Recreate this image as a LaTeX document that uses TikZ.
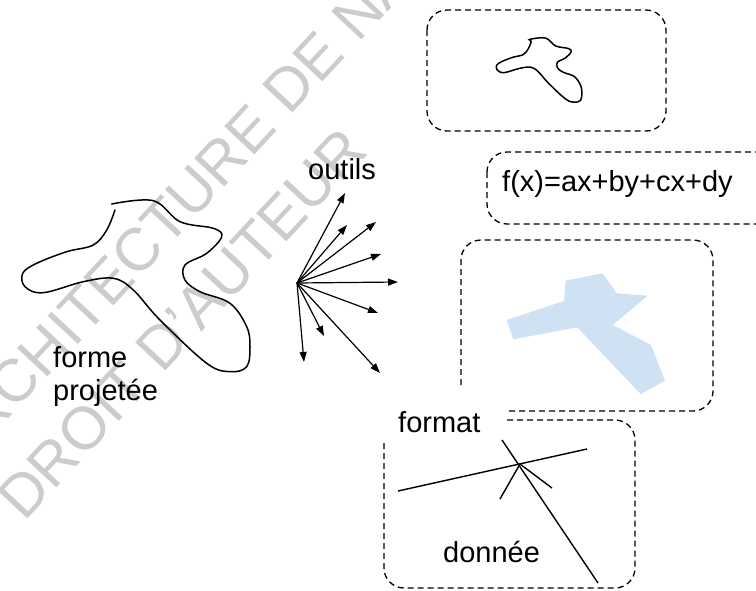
\documentclass[tikz,border=0pt]{standalone}
\usepackage{fontspec}
\setmainfont{Liberation Sans}
\usetikzlibrary{arrows.meta}
\begin{document}
\begin{tikzpicture}[x=1pt,y=-1pt,
  lbl/.style={font=\fontsize{29}{33}\selectfont, inner sep=0pt},
  wm/.style={text=black!20, font=\fontsize{60}{60}\selectfont, inner sep=0pt, rotate=47, anchor=base west},
  dbox/.style={draw, dash pattern=on 6pt off 4pt, line width=1.3pt, rounded corners=20pt},
  fanarrow/.style={-{Triangle[length=10pt,width=7pt]}, line width=1.2pt},
  curve/.style={line width=1.5pt, line cap=round},
  thinline/.style={line width=1.4pt}]
\useasboundingbox (0,0) rectangle (756,590);
\clip (0,0) rectangle (756,590);
\fill[white] (0,0) rectangle (756,590);

% watermark
\node[wm] (wm1) at (-42,473) {ARCHITECTURE DE NA};
\node[wm] (wm2) at (24,523) {DROIT D'AUTEUR};

% projected shape
\def\blobpts{(111.7,204) (153.3,200.7) (180,221.7) (213.3,228.3) (221.7,236.7) (206.7,253.3) (185,265) (185,280) (200,291.7) (230,303.3) (246.7,326.7) (250,346.7) (246.7,366.7) (230,371.7) (206.7,363.3) (160,320) (133.3,290) (113.3,278.3) (83.3,281.7) (43.3,292.7) (25,286.7) (22.7,273.3) (36.7,263.3) (66.7,251.7) (93.3,245) (106.7,230) (115,210)}
\draw[curve] plot[smooth, tension=0.6] coordinates {\blobpts};
\node[lbl, anchor=base west] (forme) at (53,367) {forme};
\node[lbl, anchor=base west] (projetee) at (53,400) {projetée};

% tools fan
\coordinate (fan) at (297,283);
\coordinate (t1) at (345,193);
\coordinate (t2) at (347,225);
\coordinate (t3) at (376,222);
\coordinate (t4) at (381,254);
\coordinate (t5) at (398,282);
\coordinate (t6) at (378,313);
\coordinate (t7) at (324,336);
\coordinate (t8) at (304,362);
\coordinate (t9) at (380,373);
\foreach \t in {t1,t2,t3,t4,t5,t6,t7,t8,t9} \draw[fanarrow] (fan) -- (\t);
\node[lbl, anchor=base west] (outils) at (308,179) {outils};

% box 1 with small shape
\draw[dbox] (427,10) rectangle (666,131);
\begin{scope}[shift={(488.1,-37.2)}, scale=0.375]
  \draw[curve] plot[smooth cycle, tension=0.6] coordinates {\blobpts};
\end{scope}

% box 2 formula
\draw[dbox] (487,152) rectangle (800,224);
\node[lbl, anchor=base west] (formula) at (502,191) {f(x)=ax+by+cx+dy};

% box 3 with blue shape
\draw[dbox] (461,385) -- (461,240) -- (713,240) -- (713,411) -- (507,411);
\fill[fill={rgb,255:red,207;green,226;blue,243}]
  (565.7,280.7) -- (602.7,273.3) -- (616.7,293.3) -- (647.7,295.7) -- (612.7,325) -- (651,345) -- (665,380.7) -- (640.7,394) -- (577.3,327.3) -- (513.3,339.3) -- (506.7,320) -- (564,301) -- cycle;

% box 4 format / donnee
\draw[dbox] (507,420) -- (635,420) -- (635,588) -- (384,588) -- (384,443);
\node[lbl, anchor=base west] (format) at (398,432) {format};
\node[lbl, anchor=base west] (donnee) at (443,562) {donnée};
\coordinate (a1) at (398,491);
\coordinate (a2) at (587,449);
\coordinate (b1) at (502,440);
\coordinate (b2) at (598,583);
\coordinate (x) at (520,464);
\coordinate (c1) at (500,499);
\coordinate (c2) at (552,488);
\draw[thinline] (a1) -- (a2);
\draw[thinline] (b1) -- (b2);
\draw[thinline] (c1) -- (x) -- (c2);
\end{tikzpicture}
\end{document}
